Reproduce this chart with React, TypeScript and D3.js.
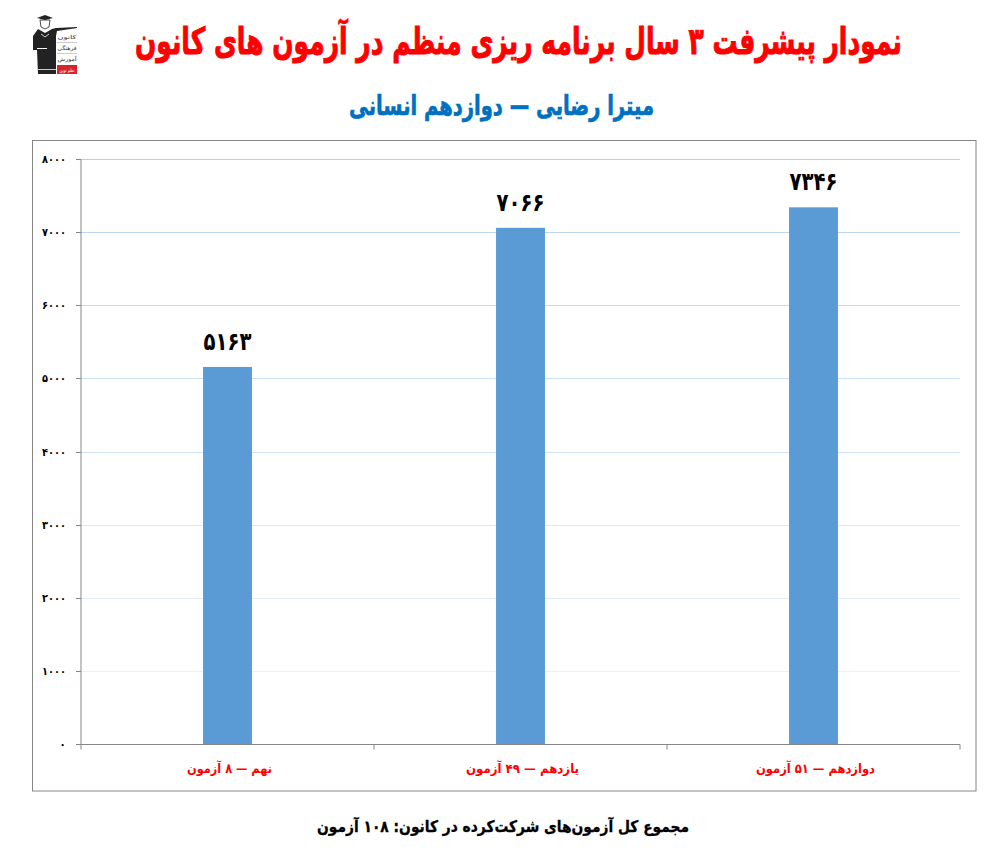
import * as d3 from 'd3'

const categories = ['نهم — ۸ آزمون', 'یازدهم — ۴۹ آزمون', 'دوازدهم — ۵۱ آزمون']
const values = [5163, 7066, 7346]
const valueLabels = ['۵۱۶۳', '۷۰۶۶', '۷۳۴۶']
const yTicks = [0, 1000, 2000, 3000, 4000, 5000, 6000, 7000, 8000]
const titleText = 'نمودار پیشرفت ۳ سال برنامه ریزی منظم در آزمون های کانون'
const subtitleText = 'میترا رضایی — دوازدهم انسانی'
const footerText = 'مجموع کل آزمون‌های شرکت‌کرده در کانون:  ۱۰۸ آزمون'
const logoLines = ['کانون', 'فرهنگی', 'آموزش']

// DejaVu runs wider than the original face, so texts are squeezed to these widths
const categoryWidths = [85, 113, 119]

const FONT = '"DejaVu Sans", sans-serif'
const toPersian = (n: number) => String(n).replace(/\d/g, d => '۰۱۲۳۴۵۶۷۸۹'[+d])

const plot = { left: 81, right: 960, top: 159.5, bottom: 744.5 }

export default function App() {
  const x = d3.scaleBand<string>()
    .domain(categories)
    .range([plot.left, plot.right])
    .paddingInner(0.833)
    .paddingOuter(0.4165)
  const y = d3.scaleLinear().domain([0, 8000]).range([plot.bottom, plot.top])
  const step = x.step()
  const crisp = (v: number) => Math.floor(v) + 0.5

  // gridlines fade out towards the bottom of the plot
  const gridColor = d3.scaleLinear<string>().domain([8000, 0]).range(['#b4d1f0', '#f0f5fc'])

  return (
    <svg
      width={989}
      height={855}
      style={{ position: 'absolute', left: 0, top: 0, background: '#fff' }}
      fontFamily={FONT}
    >
      {/* logo */}
      <g>
        <path d="M37 18 L45 15 L53 18 L45 20 Z" fill="#222" />
        <path d="M40 20 L50 20 L49 27 L45 29 L41 27 Z" fill="#fff" stroke="#222" strokeWidth={0.8} />
        <path d="M38 29 L45 33 L52 29 L56 28 L77 27 L77 28 L57 31 L56 36 L56 74 L38 74 L37 50 L33 50 L33 36 Z" fill="#222" />
        <path d="M41 34 L45 37 L49 34" fill="none" stroke="#fff" strokeWidth={0.8} />
        <rect x={37} y={48} width={10} height={1} fill="#fff" />
        <rect x={37} y={69} width={19} height={1} fill="#ccc" />
        <rect x={57} y={65} width={20} height={9} fill="#d8232a" />
        <rect x={57} y={42} width={20} height={0.5} fill="#999" />
        <rect x={57} y={53} width={20} height={0.5} fill="#999" />
        {logoLines.map((t, i) => (
          <text
            key={t}
            x={67}
            y={39 + i * 11}
            fontSize={5.5}
            textAnchor="middle"
            fill="#333"
            direction="rtl"
            textLength={19}
            lengthAdjust="spacingAndGlyphs"
          >
            {t}
          </text>
        ))}
        <text x={67} y={72} fontSize={5} textAnchor="middle" fill="#fff" direction="rtl" textLength={15} lengthAdjust="spacingAndGlyphs">
          نظم نوین
        </text>
      </g>

      <text
        x={518.5}
        y={54}
        fontSize={37}
        fontWeight={700}
        textAnchor="middle"
        direction="rtl"
        fill="#ff0000"
        stroke="#ff0000"
        strokeWidth={1}
        textLength={767}
        lengthAdjust="spacingAndGlyphs"
      >
        {titleText}
      </text>
      <text
        x={501.5}
        y={115}
        fontSize={27}
        fontWeight={700}
        textAnchor="middle"
        direction="rtl"
        fill="#0070c0"
        stroke="#0070c0"
        strokeWidth={0.7}
        textLength={305}
        lengthAdjust="spacingAndGlyphs"
      >
        {subtitleText}
      </text>

      <rect x={32.5} y={140.5} width={943.5} height={650.5} fill="#fff" stroke="#868686" />

      {yTicks.filter(t => t > 0).map(t => (
        <line
          key={t}
          x1={plot.left}
          x2={plot.right}
          y1={crisp(y(t))}
          y2={crisp(y(t))}
          stroke={gridColor(t)}
        />
      ))}

      {categories.map((c, i) => (
        <rect
          key={c}
          x={x(c)}
          y={y(values[i])}
          width={x.bandwidth()}
          height={plot.bottom - y(values[i])}
          fill="#5b9bd5"
        />
      ))}

      <line x1={plot.left} x2={plot.left} y1={plot.top} y2={plot.bottom} stroke="#868686" />
      <line x1={plot.left} x2={plot.right} y1={plot.bottom} y2={plot.bottom} stroke="#868686" />
      {yTicks.map(t => (
        <g key={t}>
          <line x1={plot.left - 5} x2={plot.left} y1={crisp(y(t))} y2={crisp(y(t))} stroke="#868686" />
          <text
            x={plot.left - 15}
            y={y(t) + 3.5}
            fontSize={11}
            fontWeight={700}
            textAnchor="end"
            fill="#000"
            textLength={t > 0 ? 24 : undefined}
            lengthAdjust="spacingAndGlyphs"
          >
            {toPersian(t)}
          </text>
        </g>
      ))}
      {d3.range(categories.length + 1).map(i => (
        <line
          key={i}
          x1={plot.left + i * step}
          x2={plot.left + i * step}
          y1={plot.bottom}
          y2={plot.bottom + 5}
          stroke="#868686"
        />
      ))}

      {categories.map((c, i) => (
        <g key={c}>
          <text
            x={x(c)! + x.bandwidth() / 2}
            y={y(values[i]) - 17}
            fontSize={25}
            fontWeight={700}
            textAnchor="middle"
            fill="#000"
            textLength={48}
            lengthAdjust="spacingAndGlyphs"
          >
            {valueLabels[i]}
          </text>
          <text
            x={x(c)! + x.bandwidth() / 2 + 2}
            y={773}
            fontSize={13}
            fontWeight={700}
            textAnchor="middle"
            direction="rtl"
            fill="#ff0000"
            textLength={categoryWidths[i]}
            lengthAdjust="spacingAndGlyphs"
          >
            {c}
          </text>
        </g>
      ))}

      <text
        x={503}
        y={832}
        fontSize={16}
        fontWeight={700}
        textAnchor="middle"
        direction="rtl"
        fill="#000"
        stroke="#000"
        strokeWidth={0.3}
        textLength={372}
        lengthAdjust="spacingAndGlyphs"
      >
        {footerText}
      </text>
    </svg>
  )
}
